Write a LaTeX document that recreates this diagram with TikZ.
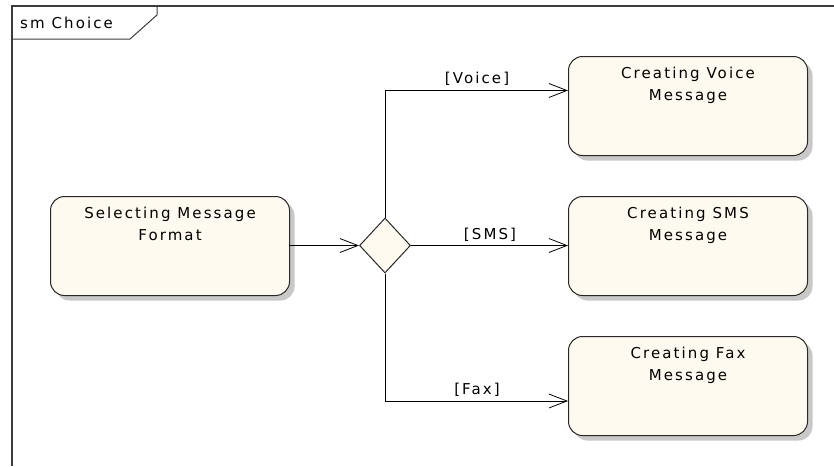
\documentclass[tikz,border=0pt]{standalone}
\usepackage{fontspec}
\newfontfamily\dvfont[LetterSpace=14]{DejaVu Sans}
\usetikzlibrary{shapes.geometric,arrows.meta}
\definecolor{boxfill}{RGB}{255,250,239}
\definecolor{boxline}{RGB}{40,40,40}
\definecolor{shadowc}{RGB}{200,200,200}
\definecolor{framec}{RGB}{60,60,60}
\begin{document}
\begin{tikzpicture}[x=1pt,y=-1pt]
\tikzset{
  txt/.style={font=\dvfont\fontsize{15}{22}\selectfont, text=black, inner sep=0pt},
  statebox/.style={draw=boxline, fill=boxfill, line width=1pt, rounded corners=14pt,
    minimum width=239pt, minimum height=99pt, anchor=north west, inner sep=0pt,
    preaction={fill=shadowc, transform canvas={shift={(5pt,-5pt)}}}},
  decisionnode/.style={diamond, draw=boxline, fill=boxfill, line width=1pt,
    minimum width=51pt, minimum height=55pt, inner sep=0pt},
  conn/.style={draw=black, line width=0.8pt,
    -{Straight Barb[length=18pt,width=14pt,line width=0.8pt]}},
  framel/.style={draw=framec, line width=1.3pt}
}
\useasboundingbox (0,0) rectangle (834,466);
% frame
\draw[framel] (12,466) -- (12,6) -- (834,6);
\draw[framel, line width=1pt] (12,39) -- (130,39) -- (157,15) -- (157,6);
\node[txt, anchor=base west] (title) at (20,28) {sm Choice};
% states
\node[statebox] (sel) at (50,196) {};
\node[statebox] (voice) at (568,56) {};
\node[statebox] (sms) at (568,196) {};
\node[statebox] (fax) at (568,336) {};
\node[txt, anchor=north, align=center] (selT) at ([yshift=-11pt]sel.north) {Selecting Message\\Format};
\node[txt, anchor=north, align=center] (voiceT) at ([yshift=-11pt]voice.north) {Creating Voice\\Message};
\node[txt, anchor=north, align=center] (smsT) at ([yshift=-11pt]sms.north) {Creating SMS\\Message};
\node[txt, anchor=north, align=center] (faxT) at ([yshift=-11pt]fax.north) {Creating Fax\\Message};
% decision
\node[decisionnode] (dia) at (385,245.5) {};
% connectors
\draw[conn] (sel.east |- dia.west) -- (dia.west);
\draw[conn] (dia.north) |- ([yshift=15.5pt]voice.west);
\draw[conn] (dia.east) -- (dia.east -| sms.west);
\draw[conn] (dia.south) |- ([yshift=-15pt]fax.west);
% guards
\node[txt, anchor=base] (lv) at (477,83) {[Voice]};
\node[txt, anchor=base] (ls) at (490,239) {[SMS]};
\node[txt, anchor=base] (lf) at (477,394) {[Fax]};
\end{tikzpicture}
\end{document}
